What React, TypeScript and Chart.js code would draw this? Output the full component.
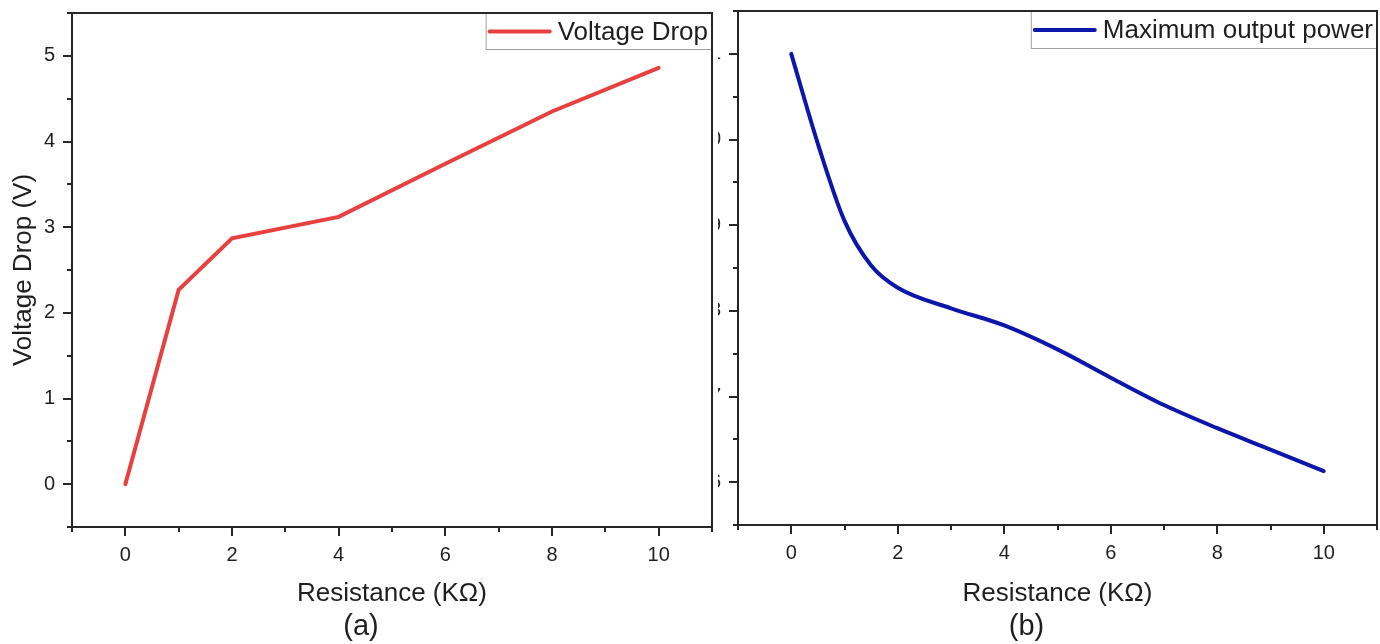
import React, { useEffect, useRef } from 'react';
import { Chart, registerables } from 'chart.js';

Chart.register(...registerables);

const FONT = '"Liberation Sans", Arial, Helvetica, sans-serif';
const TEXT = '#1e1e1e';
const AXIS = '#262626';

// Panel (a): voltage drop vs resistance
const resistanceA = [0, 1, 2, 4, 6, 8, 10];
const voltageDrop = [0, 2.27, 2.87, 3.12, 3.74, 4.35, 4.86];

// Panel (b): maximum output power vs resistance
const resistanceB = [0, 0.5, 1, 1.5, 2, 3, 4, 5, 6, 7, 8, 9, 10];
const maxOutputPower = [11.0, 9.95, 9.05, 8.53, 8.27, 8.03, 7.83, 7.55, 7.22, 6.9, 6.63, 6.38, 6.13];

// Tick labels
const xTickLabels = ['0', '2', '4', '6', '8', '10'];
const yTickLabelsA = ['0', '1', '2', '3', '4', '5'];
const yTickLabelsB = ['6', '7', '8', '9', '10', '11'];

const decorPlugin = {
  id: 'panelDecor',
  afterDraw(chart: any, _args: any, opts: any) {
    const { ctx, chartArea: ca } = chart;
    const xs = chart.scales.x;
    const ys = chart.scales.y;
    ctx.save();

    // legend box
    const ds = chart.data.datasets[0];
    ctx.font = `26px ${FONT}`;
    const tw = ctx.measureText(ds.label).width;
    const boxH = opts.legendH || 37;
    const boxW = 3 + 62 + 7 + tw + 4;
    const bx = ca.right - boxW;
    const by = ca.top;
    ctx.fillStyle = '#ffffff';
    ctx.fillRect(bx, by, boxW, boxH);
    ctx.strokeStyle = '#a0a0a0';
    ctx.lineWidth = 1;
    ctx.strokeRect(bx + 0.5, by + 0.5, boxW - 1, boxH - 1);
    ctx.strokeStyle = ds.borderColor;
    ctx.lineWidth = 4;
    ctx.lineCap = 'round';
    ctx.beginPath();
    ctx.moveTo(bx + 4, by + boxH / 2);
    ctx.lineTo(bx + 64, by + boxH / 2);
    ctx.stroke();
    ctx.fillStyle = TEXT;
    ctx.textAlign = 'left';
    ctx.textBaseline = 'middle';
    ctx.fillText(ds.label, bx + 72, by + boxH / 2 + 1);

    // tick marks
    ctx.strokeStyle = AXIS;
    ctx.lineWidth = 2;
    ctx.lineCap = 'butt';
    ctx.beginPath();
    for (const t of xs.ticks) {
      const px = Math.round(xs.getPixelForValue(t.value));
      const len = t.label !== '' ? 9 : 5;
      ctx.moveTo(px, ca.bottom);
      ctx.lineTo(px, ca.bottom + len);
    }
    for (const t of ys.ticks) {
      const py = Math.round(ys.getPixelForValue(t.value));
      const len = t.label !== '' ? 9 : 5;
      ctx.moveTo(ca.left, py);
      ctx.lineTo(ca.left - len, py);
    }
    ctx.stroke();

    // frame
    ctx.strokeRect(ca.left, ca.top, ca.right - ca.left, ca.bottom - ca.top);

    // caption
    ctx.fillStyle = TEXT;
    ctx.font = `29px ${FONT}`;
    ctx.textAlign = 'center';
    ctx.textBaseline = 'middle';
    ctx.fillText(opts.caption, (ca.left + ca.right) / 2 - 31, 627);
    ctx.restore();
  },
};

function makeOptions(cfg: {
  yMin: number;
  yMax: number;
  yLabels: string[];
  yWidth: number;
  xHeight: number;
  yTitle: string | null;
  padTop: number;
  padRight: number;
  caption: string;
  legendH: number;
}) {
  return {
    animation: false,
    responsive: false,
    layout: { padding: { top: cfg.padTop, right: cfg.padRight, left: 0, bottom: 0 } },
    plugins: {
      legend: { display: false },
      tooltip: { enabled: false },
      panelDecor: { caption: cfg.caption, legendH: cfg.legendH },
    },
    scales: {
      x: {
        type: 'linear',
        min: -1,
        max: 11,
        afterFit: (s: any) => {
          s.height = cfg.xHeight;
          s.paddingLeft = 0;
          s.paddingRight = 0;
          s.paddingTop = 0;
          s.paddingBottom = 0;
        },
        grid: { display: false, drawTicks: true, tickLength: 9 },
        border: { display: false },
        ticks: {
          stepSize: 1,
          autoSkip: false,
          maxRotation: 0,
          padding: 7,
          color: TEXT,
          font: { family: FONT, size: 20 },
          callback: (v: any) => (xTickLabels.includes(String(v)) ? String(v) : ''),
        },
        title: {
          display: true,
          text: 'Resistance (KΩ)',
          color: TEXT,
          font: { family: FONT, size: 26 },
          padding: { top: 0, bottom: 35 },
        },
      },
      y: {
        type: 'linear',
        min: cfg.yMin,
        max: cfg.yMax,
        afterFit: (s: any) => {
          s.width = cfg.yWidth;
          s.paddingLeft = 0;
          s.paddingRight = 0;
          s.paddingTop = 0;
          s.paddingBottom = 0;
        },
        grid: { display: false, drawTicks: true, tickLength: 9 },
        border: { display: false },
        ticks: {
          stepSize: 0.5,
          autoSkip: false,
          padding: 8,
          color: TEXT,
          font: { family: FONT, size: 20 },
          callback: (v: any) => (cfg.yLabels.includes(String(v)) ? String(v) : ''),
        },
        title: {
          display: !!cfg.yTitle,
          text: cfg.yTitle || '',
          color: TEXT,
          font: { family: FONT, size: 26 },
          padding: { top: 8, bottom: 0 },
        },
      },
    },
  };
}

function Panel(props: {
  left: number;
  width: number;
  xs: number[];
  ys: number[];
  label: string;
  color: string;
  smooth: boolean;
  opts: any;
}) {
  const ref = useRef<HTMLCanvasElement | null>(null);
  useEffect(() => {
    if (!ref.current) return;
    const chart = new Chart(ref.current, {
      type: 'line',
      data: {
        datasets: [
          {
            label: props.label,
            data: props.xs.map((x, i) => ({ x, y: props.ys[i] })),
            borderColor: props.color,
            backgroundColor: props.color,
            borderWidth: 4,
            pointRadius: 0,
            borderCapStyle: 'round',
            cubicInterpolationMode: props.smooth ? 'monotone' : 'default',
            tension: 0,
            fill: false,
          },
        ],
      },
      options: props.opts,
      plugins: [decorPlugin],
    } as any);
    return () => chart.destroy();
  }, []);
  return (
    <canvas
      ref={ref}
      width={props.width}
      height={644}
      style={{ position: 'absolute', left: props.left, top: 0, width: props.width, height: 644, display: 'block' }}
    />
  );
}

export default function App() {
  const optsA = makeOptions({
    yMin: -0.5,
    yMax: 5.5,
    yLabels: yTickLabelsA,
    yWidth: 72,
    xHeight: 117,
    yTitle: 'Voltage Drop (V)',
    padTop: 13,
    padRight: 4,
    caption: '(a)',
    legendH: 37,
  });
  const optsB = makeOptions({
    yMin: 5.5,
    yMax: 11.5,
    yLabels: yTickLabelsB,
    yWidth: 20,
    xHeight: 119,
    yTitle: null,
    padTop: 11,
    padRight: 3,
    caption: '(b)',
    legendH: 38,
  });
  return (
    <div style={{ position: 'fixed', left: 0, top: 0, width: 1380, height: 644, background: '#ffffff', overflow: 'hidden' }}>
      <Panel left={0} width={716} xs={resistanceA} ys={voltageDrop} label="Voltage Drop" color="#E8403F" smooth={false} opts={optsA} />
      <Panel left={718} width={662} xs={resistanceB} ys={maxOutputPower} label="Maximum output power" color="#0C16AA" smooth={true} opts={optsB} />
    </div>
  );
}
